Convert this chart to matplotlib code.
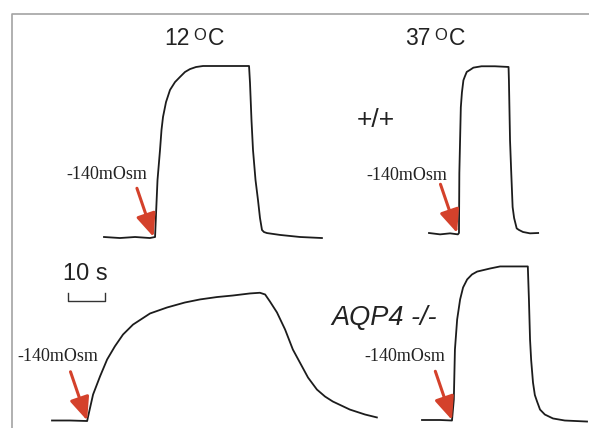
import matplotlib
matplotlib.use('Agg')
import matplotlib.pyplot as plt

# figure size in pixels
W, H = 589, 428
PX_PER_S = 3.7      # 10 s scale bar is ~37 px
PX_PER_UNIT = 171   # 1.0 relative signal = wild-type 12 C plateau

# traces: time (s) and relative signal
wt12_t = [0, 4.3, 8.4, 12.4, 13.8, 14.05, 14.46, 15.14, 15.54, 15.95, 16.76, 17.84,
          19.19, 20.54, 21.89, 23.24, 24.86, 26.76, 31.4, 39.2, 39.46, 39.86, 40.27,
          40.95, 41.62, 42.16, 42.7, 43.24, 44.05, 47.6, 53.0, 58.9]
wt12_s = [0, -0.006, 0, -0.006, 0, 0.129, 0.333, 0.509, 0.626, 0.702, 0.789, 0.860,
          0.906, 0.936, 0.965, 0.982, 0.994, 1.0, 1.0, 1.0, 0.901, 0.684, 0.509,
          0.333, 0.216, 0.111, 0.041, 0.029, 0.023, 0.012, 0, -0.006]

wt37_t = [0, 3.0, 5.7, 7.8, 8.1, 8.2, 8.6, 8.9, 9.3, 9.7, 10.2, 11.1, 12.0, 14.2, 17.8,
          21.5, 21.6, 21.9, 22.2, 22.6, 23.0, 23.7, 24.3, 25.4, 27.3, 29.5]
wt37_s = [0, -0.008, -0.002, -0.008, 0, 0.35, 0.735, 0.822, 0.893, 0.916, 0.942, 0.954,
          0.967, 0.975, 0.975, 0.971, 0.893, 0.542, 0.368, 0.152, 0.088, 0.027, 0.018,
          0.006, -0.002, 0]

ko12_t = [0, 4.9, 9.5, 9.7, 11.1, 13.0, 14.9, 17.0, 19.2, 21.9, 26.5, 31.1, 35.9,
          40.0, 44.6, 48.9, 53.5, 56.2, 57.6, 58.9, 60.8, 63.0, 65.1, 67.0, 69.2,
          71.6, 73.8, 75.9, 80.5, 84.6, 87.8]
ko12_s = [0, 0, -0.003, 0.018, 0.152, 0.259, 0.357, 0.434, 0.503, 0.561, 0.626, 0.661, 0.690,
          0.708, 0.722, 0.731, 0.743, 0.747, 0.737, 0.696, 0.632, 0.532, 0.415, 0.339, 0.251,
          0.181, 0.140, 0.111, 0.064, 0.035, 0.018]

ko37_t = [0, 4.9, 8.1, 8.6, 8.9, 9.5, 10.3, 11.1, 12.2, 13.5, 14.9, 18.4, 21.1,
          28.6, 28.9, 29.2, 29.5, 30.0, 30.5, 31.1, 31.9, 33.2, 35.4, 38.6, 44.6]
ko37_s = [0, 0, -0.003, 0.12, 0.412, 0.588, 0.705, 0.775, 0.822, 0.851, 0.868, 0.886, 0.898,
          0.898, 0.705, 0.471, 0.351, 0.219, 0.146, 0.108, 0.061, 0.032, 0.009, -0.003, -0.009]

# stimulus onset (s) where the arrow points, and where the label sits (s, signal)
onsets = [13.4, 7.6, 9.5, 8.1]
label_pos = [(0.8, 0.363), (-5.9, 0.339), (1.6, 0.377), (-4.6, 0.374)]
stim_label = '-140mOsm'

# where each trace's origin (t=0, s=0) sits in the picture (px)
origins = [(104, 237), (429, 233), (52, 420.5), (422, 420)]
traces = [(wt12_t, wt12_s), (wt37_t, wt37_s), (ko12_t, ko12_s), (ko37_t, ko37_s)]

TRACE_COLOR = '#1c1c1c'
ARROW_COLOR = '#d4412b'
T0, T1 = -8, 92
S0, S1 = -0.15, 1.1

plt.rcParams['font.family'] = ['Liberation Sans', 'DejaVu Sans']
fig = plt.figure(figsize=(W / 100, H / 100), dpi=100)
fig.patch.set_facecolor('white')


def fx(x):
    return x / W


def fy(y):
    return 1 - y / H


# gray frame along the top and left edge
frame = fig.add_axes([0, 0, 1, 1])
frame.set_xlim(0, W)
frame.set_ylim(H, 0)
frame.axis('off')
frame.plot([12, 12, W], [H, 14, 14], color='#a3a3a3', lw=1.2, solid_capstyle='butt')

axes = []
for (ox, oy), (t, s), onset, (lt, ls) in zip(origins, traces, onsets, label_pos):
    left = ox + T0 * PX_PER_S
    bottom = oy - S0 * PX_PER_UNIT
    ax = fig.add_axes([fx(left), fy(bottom), (T1 - T0) * PX_PER_S / W,
                       (S1 - S0) * PX_PER_UNIT / H])
    ax.set_xlim(T0, T1)
    ax.set_ylim(S0, S1)
    ax.axis('off')
    ax.patch.set_alpha(0)
    ax.plot(t, s, color=TRACE_COLOR, lw=1.3, solid_joinstyle='round')
    # red stimulus arrow and label
    ax.annotate('', xy=(onset, 0), xytext=(onset - 4.5, 0.285),
                arrowprops=dict(arrowstyle='-|>,head_length=1.4,head_width=0.6',
                                mutation_scale=10, color=ARROW_COLOR, lw=2.2,
                                shrinkA=0, shrinkB=0))
    ax.text(lt, ls, stim_label, family='Liberation Serif', fontsize=13,
            ha='center', va='center', color='#222222')
    axes.append(ax)

# 10 s scale bar under the label, drawn in the AQP4 -/- 12 C time scale
ax3 = axes[2]
ax3.plot([4.4, 4.4, 14.4, 14.4], [0.745, 0.698, 0.698, 0.745], color='#333333', lw=1.0)
fig.text(fx(85), fy(274), '10 s', fontsize=17, ha='center', va='center', color='#222222')

# temperature headings with raised "O"
for x_num, num, x_o, x_c in [(164, '12', 193, 208), (405, '37', 434, 449)]:
    fig.text(fx(x_num), fy(45), num, fontsize=16.5, ha='left', va='baseline', color='#222222')
    fig.text(fx(x_o), fy(40), 'O', fontsize=12, ha='left', va='baseline', color='#222222')
    fig.text(fx(x_c), fy(45), 'C', fontsize=16.5, ha='left', va='baseline', color='#222222')

fig.text(fx(376), fy(120), '+/+', fontsize=19, ha='center', va='center', color='#222222')
fig.text(fx(384), fy(318), 'AQP4 -/-', fontsize=19.5, style='italic', ha='center',
         va='center', color='#222222')

fig.savefig('out.png', dpi=100)
